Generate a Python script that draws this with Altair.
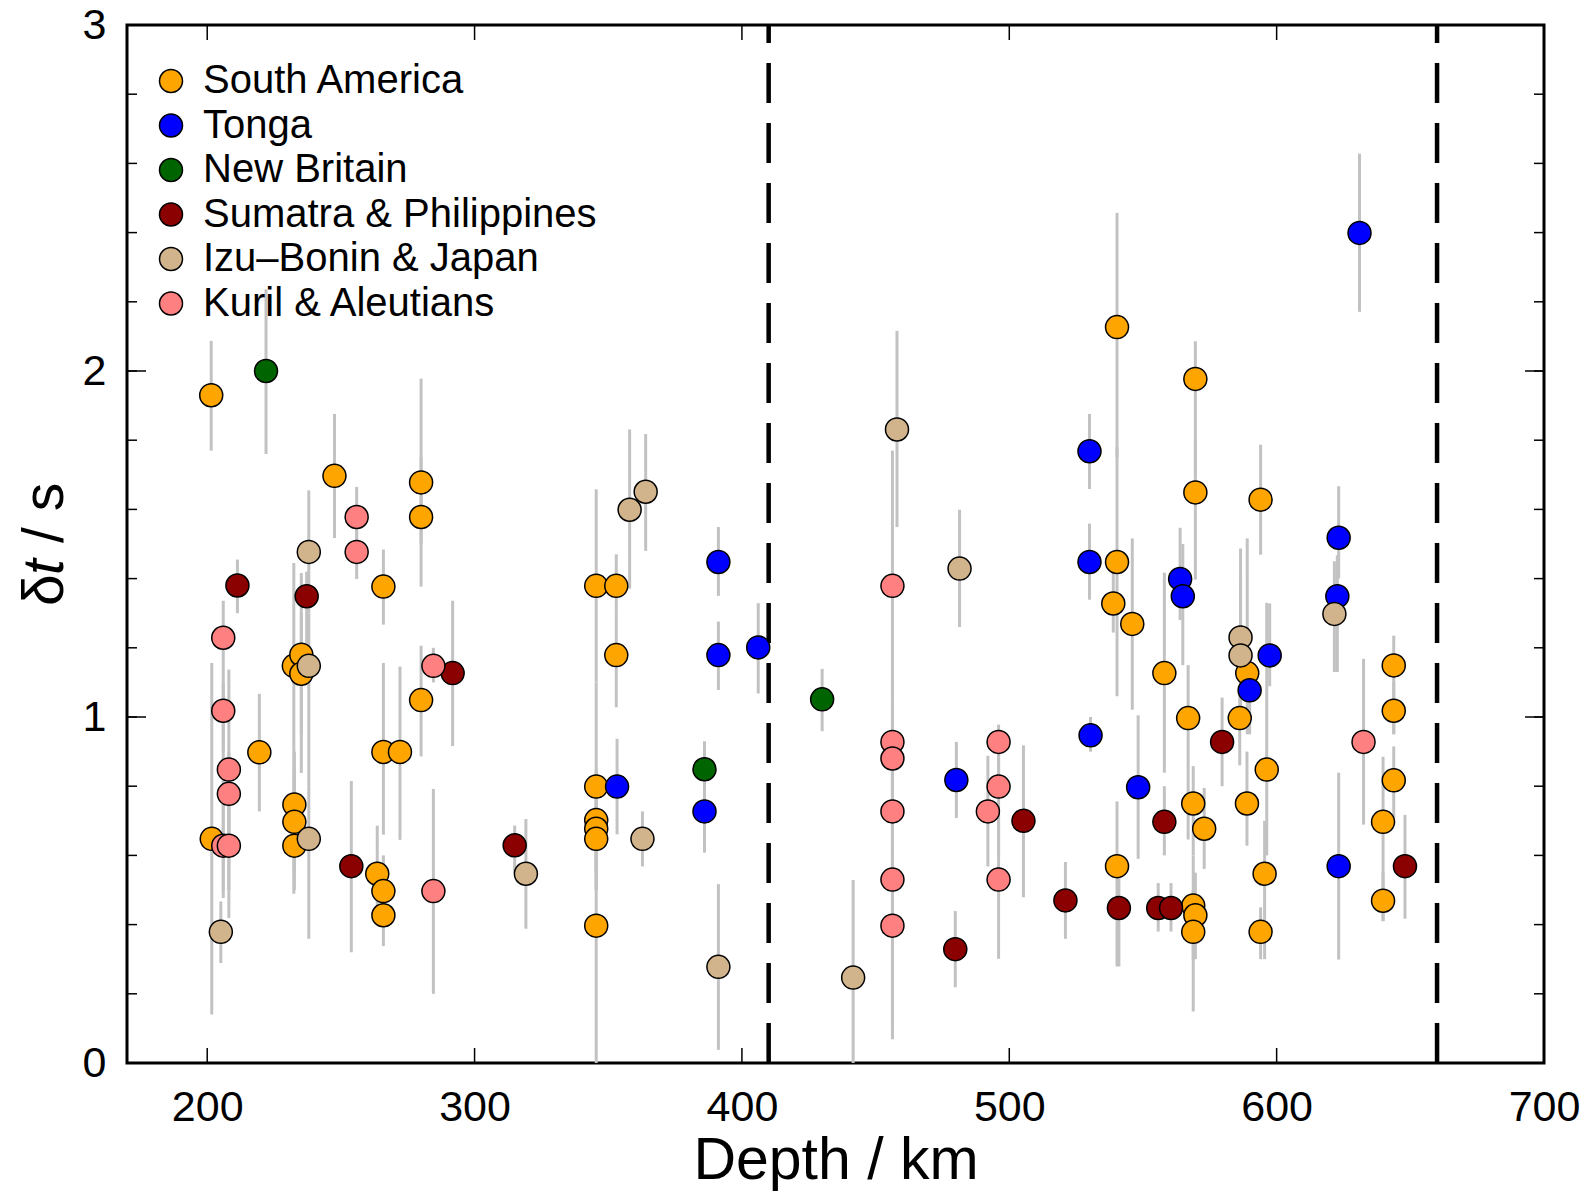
import altair as alt
import pandas as pd

FONT = "Liberation Sans"

REGIONS = ["South America", "Tonga", "New Britain", "Sumatra & Philippines",
           "Izu\u2013Bonin & Japan", "Kuril & Aleutians"]
COLORS = ["#FFA500", "#0000FF", "#006400", "#8B0000", "#D2B48C", "#FF8080"]

# South America
sa_depth = [201.5, 201.7, 219.5, 232.4, 235.2, 235.2, 232.6, 232.6, 232.6, 247.6,
            263.6, 265.9, 265.9, 265.9, 265.9, 272.1, 280.0, 280.0, 280.0, 345.5,
            345.5, 345.5, 345.5, 345.5, 345.5, 353.0, 353.0, 538.9, 540.3, 540.3,
            540.3, 546.0, 558.0, 566.9, 568.8, 572.9, 568.8, 569.6, 568.8, 569.6,
            569.6, 586.2, 589.0, 588.9, 594.0, 596.3, 595.5, 594.0, 639.8, 639.8,
            643.8, 643.8, 643.8]
sa_dt = [1.93, 0.648, 0.898, 1.148, 1.18, 1.125, 0.747, 0.697, 0.628, 1.697,
         0.547, 1.377, 0.899, 0.497, 0.427, 0.899, 1.678, 1.578, 1.049, 1.379,
         0.799, 0.702, 0.677, 0.648, 0.397, 1.379, 1.179, 1.328, 2.127, 1.448,
         0.569, 1.269, 1.127, 0.997, 0.75, 0.677, 0.455, 0.427, 0.379, 1.977,
         1.649, 0.997, 1.127, 0.75, 1.628, 0.848, 0.547, 0.379, 0.697, 0.469,
         1.149, 1.018, 0.817]
sa_lo = [1.77, 0.14, 0.727, 0.489, 0.838, 0.95, 0.6, 0.55, 0.5, 1.517,
         0.42, 1.267, 0.66, 0.4, 0.338, 0.645, 1.5, 1.377, 0.886, 1.1,
         0.5, 0.55, 0.55, 0.5, 0.0, 1.3, 1.028, 1.244, 1.75, 1.06,
         0.279, 1.021, 0.839, 0.646, 0.6, 0.561, 0.3, 0.3, 0.149, 1.7,
         1.397, 0.86, 0.95, 0.628, 1.469, 0.6, 0.3, 0.3, 0.41, 0.41,
         0.95, 0.95, 0.71]
sa_hi = [2.087, 1.156, 1.067, 1.445, 1.416, 1.3, 0.9, 0.85, 0.75, 1.876,
         0.686, 1.484, 1.156, 0.6, 0.52, 1.146, 1.978, 1.75, 1.206, 1.658,
         1.1, 0.85, 0.8, 0.8, 0.6, 1.47, 1.3, 1.42, 2.457, 1.78,
         0.756, 1.516, 1.417, 1.15, 0.858, 0.795, 0.6, 0.55, 0.5, 2.086,
         1.8, 1.06, 1.516, 0.9, 1.787, 1.33, 0.7, 0.45, 0.885, 0.55,
         1.235, 1.1, 0.915]

# Tonga
to_depth = [353.3, 386.0, 391.2, 391.2, 406.1, 480.2, 530.0, 530.0, 530.4, 548.2,
            563.9, 564.9, 589.9, 597.4, 622.7, 623.2, 623.2, 631.0]
to_dt = [0.799, 0.727, 1.448, 1.179, 1.201, 0.818, 1.768, 1.448, 0.947, 0.797,
         1.399, 1.349, 1.077, 1.178, 1.349, 1.518, 0.569, 2.399]
to_lo = [0.661, 0.608, 1.35, 1.078, 1.068, 0.708, 1.659, 1.339, 0.9, 0.59,
         1.28, 1.15, 0.95, 1.089, 1.13, 1.4, 0.299, 2.171]
to_hi = [0.937, 0.884, 1.549, 1.276, 1.329, 0.928, 1.876, 1.559, 1.0, 1.005,
         1.547, 1.5, 1.2, 1.328, 1.467, 1.667, 0.839, 2.628]

# New Britain
nb_depth = [222.0, 386.0, 430.0]
nb_dt = [2.0, 0.849, 1.051]
nb_lo = [1.76, 0.76, 0.959]
nb_hi = [2.236, 0.93, 1.139]

# Sumatra & Philippines
su_depth = [211.3, 237.2, 253.9, 291.8, 315.0, 479.8, 505.3, 521.0, 541.0, 555.7,
            560.5, 558.0, 579.6, 648.0]
su_dt = [1.38, 1.349, 0.569, 1.127, 0.629, 0.329, 0.7, 0.47, 0.448, 0.448,
         0.448, 0.697, 0.928, 0.569]
su_lo = [1.30, 1.1, 0.32, 0.916, 0.55, 0.219, 0.479, 0.359, 0.279, 0.38,
         0.38, 0.6, 0.8, 0.417]
su_hi = [1.455, 1.42, 0.815, 1.336, 0.686, 0.439, 0.918, 0.581, 0.6, 0.52,
         0.52, 0.8, 1.056, 0.717]

# Izu-Bonin & Japan
ib_depth = [205.1, 238.0, 238.0, 238.0, 319.2, 358.0, 364.0, 362.8, 391.2, 441.6,
            458.0, 481.4, 586.5, 586.5, 621.6]
ib_dt = [0.379, 1.477, 1.148, 0.648, 0.547, 1.599, 1.651, 0.648, 0.278, 0.247,
         1.831, 1.429, 1.23, 1.178, 1.298]
ib_lo = [0.289, 1.3, 0.8, 0.359, 0.388, 1.371, 1.48, 0.568, 0.038, 0.0,
         1.549, 1.26, 1.0, 1.0, 1.13]
ib_hi = [0.467, 1.655, 1.3, 0.8, 0.705, 1.831, 1.818, 0.727, 0.517, 0.529,
         2.116, 1.599, 1.487, 1.4, 1.45]

# Kuril & Aleutians
ku_depth = [206.0, 206.0, 208.1, 208.1, 206.0, 208.1, 255.9, 255.9, 284.6, 284.6,
            456.3, 456.3, 456.3, 456.3, 456.3, 456.3, 496.0, 496.0, 496.0, 492.0,
            632.5]
ku_dt = [1.229, 1.018, 0.848, 0.778, 0.628, 0.628, 1.578, 1.477, 1.148, 0.497,
         1.379, 0.928, 0.88, 0.727, 0.53, 0.397, 0.928, 0.799, 0.53, 0.727,
         0.928]
ku_lo = [0.9, 0.477, 0.6, 0.419, 0.5, 0.5, 1.48, 1.399, 1.1, 0.2,
         1.05, 0.78, 0.6, 0.55, 0.069, 0.1, 0.8, 0.6, 0.301, 0.568,
         0.689]
ku_hi = [1.336, 1.1, 1.137, 0.9, 0.75, 0.75, 1.665, 1.6, 1.2, 0.792,
         1.77, 1.03, 1.1, 0.9, 0.9, 0.6, 0.978, 0.95, 0.7, 0.888,
         1.168]

X_TICKS = [200, 300, 400, 500, 600, 700]
Y_LABELS = [0, 1, 2, 3]
Y_MINOR = [round(0.2 * i, 1) for i in range(16)]
DISCONTINUITIES = [410, 660]

series = [
    (REGIONS[0], sa_depth, sa_dt, sa_lo, sa_hi),
    (REGIONS[1], to_depth, to_dt, to_lo, to_hi),
    (REGIONS[2], nb_depth, nb_dt, nb_lo, nb_hi),
    (REGIONS[3], su_depth, su_dt, su_lo, su_hi),
    (REGIONS[4], ib_depth, ib_dt, ib_lo, ib_hi),
    (REGIONS[5], ku_depth, ku_dt, ku_lo, ku_hi),
]
frames = []
for name, d, v, lo, hi in series:
    assert len(d) == len(v) == len(lo) == len(hi), name
    frames.append(pd.DataFrame({"region": name, "depth": d, "dt": v, "lo": lo, "hi": hi}))
df = pd.concat(frames, ignore_index=True)
df["order"] = range(len(df))

W, H = 1417, 1038
SYM = 529  # circle diameter 23 px
xs = alt.Scale(domain=[170, 700], nice=False, zero=False)
ys = alt.Scale(domain=[0, 3], nice=False, zero=False)

x_axis = alt.Axis(values=X_TICKS, format="d", title="Depth / km", titleFont=FONT,
                  titleFontSize=59, titleFontWeight="normal", titleColor="black",
                  titleBaseline="alphabetic", titleY=115,
                  labelFont=FONT, labelFontSize=43, labelColor="black",
                  labelBaseline="alphabetic", labelPadding=57, labelFlush=False,
                  labelOverlap=False, ticks=False, tickSize=0, domain=False, grid=False)
y_axis = alt.Axis(values=Y_LABELS, format="d", title=None,
                  labelFont=FONT, labelFontSize=43, labelColor="black",
                  labelPadding=21, labelFlush=False, labelOverlap=False,
                  ticks=False, tickSize=0, domain=False, grid=False)

base = alt.Chart(df)

bars = base.mark_rule(color="#c2c2c2", strokeWidth=3).encode(
    x=alt.X("depth:Q", scale=xs, axis=x_axis),
    y=alt.Y("lo:Q", scale=ys, axis=y_axis),
    y2="hi:Q",
)

points = base.mark_point(shape="circle", filled=True, size=SYM, stroke="black",
                         strokeWidth=1.5, opacity=1).encode(
    x=alt.X("depth:Q", scale=xs),
    y=alt.Y("dt:Q", scale=ys),
    fill=alt.Fill("region:N", scale=alt.Scale(domain=REGIONS, range=COLORS),
                  legend=alt.Legend(title=None, orient="none", legendX=24, legendY=36,
                                    symbolType="circle", symbolSize=SYM,
                                    symbolStrokeColor="black", symbolStrokeWidth=1.5,
                                    symbolOpacity=1, labelFont=FONT, labelFontSize=40,
                                    labelColor="black", labelOffset=12, rowPadding=4.5,
                                    padding=0, labelLimit=0)),
    order=alt.Order("order:Q"),
)

dashed = alt.Chart(pd.DataFrame({"x": DISCONTINUITIES})).mark_rule(
    color="black", strokeWidth=4.5, strokeDash=[40, 20]).encode(
    x=alt.X("x:Q", scale=xs), y=alt.value(H), y2=alt.value(0))

xt = alt.Chart(pd.DataFrame({"x": X_TICKS}))
xt_bottom = xt.mark_rule(color="black", strokeWidth=1.5).encode(
    x=alt.X("x:Q", scale=xs), y=alt.value(H), y2=alt.value(H - 15))
xt_top = xt.mark_rule(color="black", strokeWidth=1.5).encode(
    x=alt.X("x:Q", scale=xs), y=alt.value(0), y2=alt.value(15))

ym = alt.Chart(pd.DataFrame({"y": Y_MINOR}))
ymaj = alt.Chart(pd.DataFrame({"y": Y_LABELS}))
yt_l_minor = ym.mark_rule(color="black", strokeWidth=1.5).encode(
    y=alt.Y("y:Q", scale=ys), x=alt.value(0), x2=alt.value(10))
yt_r_minor = ym.mark_rule(color="black", strokeWidth=1.5).encode(
    y=alt.Y("y:Q", scale=ys), x=alt.value(W), x2=alt.value(W - 10))
yt_l_major = ymaj.mark_rule(color="black", strokeWidth=1.5).encode(
    y=alt.Y("y:Q", scale=ys), x=alt.value(0), x2=alt.value(19))
yt_r_major = ymaj.mark_rule(color="black", strokeWidth=1.5).encode(
    y=alt.Y("y:Q", scale=ys), x=alt.value(W), x2=alt.value(W - 19))

tstyle = dict(angle=270, align="left", baseline="alphabetic", font=FONT,
              fontSize=57, color="black")
yt1 = alt.Chart(pd.DataFrame({"t": ["\u03b4"]})).mark_text(**tstyle).encode(
    text="t:N", x=alt.value(-64), y=alt.value(581))
yt2 = alt.Chart(pd.DataFrame({"t": ["t"]})).mark_text(fontStyle="italic", **tstyle).encode(
    text="t:N", x=alt.value(-64), y=alt.value(550))
yt3 = alt.Chart(pd.DataFrame({"t": ["/ s"]})).mark_text(**tstyle).encode(
    text="t:N", x=alt.value(-64), y=alt.value(518))

chart = alt.layer(
    bars, dashed, points, xt_bottom, xt_top,
    yt_l_minor, yt_r_minor, yt_l_major, yt_r_major, yt1, yt2, yt3,
).properties(
    width=W, height=H,
    autosize=alt.AutoSizeParams(type="none"),
    padding={"left": 127, "top": 25, "right": 44, "bottom": 129},
    background="white",
).configure_view(stroke="black", strokeWidth=3)

chart.save("out.html", embed_options={"renderer": "svg", "actions": False})
